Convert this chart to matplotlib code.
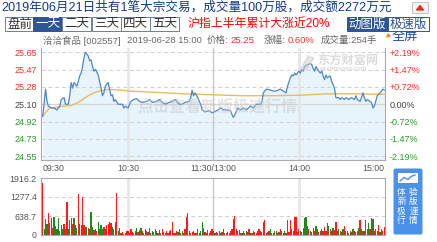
import numpy as np
import matplotlib
matplotlib.use("Agg")
import matplotlib.pyplot as plt
from matplotlib.patches import Rectangle, FancyBboxPatch, Polygon

CJK = ['Liberation Sans', 'Noto Sans CJK SC', 'DejaVu Sans']
plt.rcParams['font.family'] = CJK

# ---- Daten ----
prev_close = 25.10
price_ticks = ["25.65", "25.47", "25.28", "25.10", "24.92", "24.73", "24.55"]
pct_ticks = ["+2.19%", "+1.47%", "+0.72%", "0.00%", "-0.72%", "-1.47%", "-2.19%"]
time_labels = ["09:30", "10:30", "11:30/13:00", "14:00", "15:00"]
time_pos = [0, 60, 120, 180, 240]
vol_ticks = ["1916.2", "1277.4", "638.7", "0"]
vol_max = 1916.2

price_min = [0, 2, 3, 4, 6, 8, 10, 12, 13, 15, 16, 18, 19, 20, 21, 22, 24, 25, 26, 27,
             28, 29, 30, 32, 33, 34, 35, 36, 37, 39, 40, 41, 42, 43, 44, 46, 47, 48, 49, 50,
             51, 53, 54, 56, 57, 58, 60, 61, 62, 64, 66, 68, 70, 73, 75, 77, 80, 82, 84, 86,
             89, 91, 93, 96, 98, 100, 103, 104, 105, 106, 107, 109, 110, 111, 112, 113, 114, 117, 119, 121,
             123, 125, 127, 130, 132, 133, 134, 135, 137, 139, 141, 143, 146, 148, 150, 153, 154, 155, 156, 157,
             160, 162, 164, 167, 169, 171, 172, 174, 175, 176, 177, 178, 180, 181, 182, 183, 184, 186, 188, 189,
             190, 191, 192, 193, 195, 196, 197, 198, 199, 200, 202, 203, 204, 205, 206, 208, 209, 210, 212, 213,
             215, 217, 219, 220, 221, 223, 224, 225, 226, 227, 228, 230, 231, 232, 233, 234, 235, 237, 238, 239,
             240]
price = [24.97, 25.26, 25.13, 25.08, 25.06, 25.06, 25.04, 25.08, 25.15, 25.17, 25.10, 25.10, 25.19, 25.33, 25.27, 25.33, 25.29, 25.34, 25.40, 25.43,
         25.50, 25.59, 25.65, 25.61, 25.56, 25.57, 25.50, 25.45, 25.47, 25.41, 25.34, 25.27, 25.19, 25.22, 25.29, 25.33, 25.26, 25.19, 25.20, 25.13,
         25.15, 25.10, 25.10, 25.10, 25.06, 25.08, 25.06, 25.10, 25.13, 25.15, 25.16, 25.13, 25.12, 25.13, 25.15, 25.12, 25.13, 25.15, 25.12, 25.10,
         25.12, 25.13, 25.15, 25.10, 25.10, 25.12, 25.13, 25.17, 25.25, 25.19, 25.22, 25.17, 25.13, 25.10, 25.04, 25.03, 25.02, 25.03, 25.01, 25.02,
         25.04, 25.06, 25.04, 25.04, 25.03, 24.99, 24.96, 24.99, 25.06, 25.04, 25.06, 25.04, 25.08, 25.06, 25.10, 25.10, 25.13, 25.22, 25.24, 25.26,
         25.25, 25.24, 25.24, 25.26, 25.24, 25.22, 25.29, 25.38, 25.41, 25.40, 25.43, 25.41, 25.45, 25.43, 25.47, 25.45, 25.50, 25.52, 25.53, 25.52,
         25.48, 25.45, 25.50, 25.47, 25.43, 25.45, 25.40, 25.36, 25.41, 25.38, 25.40, 25.34, 25.31, 25.27, 25.17, 25.17, 25.15, 25.17, 25.15, 25.17,
         25.15, 25.17, 25.15, 25.19, 25.15, 25.13, 25.17, 25.22, 25.17, 25.13, 25.15, 25.13, 25.12, 25.06, 25.08, 25.13, 25.19, 25.22, 25.24, 25.26,
         25.25]

avg_min = [0, 5, 10, 15, 20, 25, 28, 32, 36, 40, 45, 50, 55, 60, 80, 100, 120, 140, 160, 180, 200, 220, 240]
avg_price = [24.98, 25.06, 25.07, 25.08, 25.085, 25.12, 25.15, 25.19, 25.22, 25.24, 25.255, 25.255, 25.25, 25.24,
             25.225, 25.21, 25.20, 25.19, 25.19, 25.195, 25.21, 25.21, 25.205]

volume = [1740, 200, 540, 380, 728, 400, 560, 250, 620, 300,
          200, 560, 150, 330, 200, 380, 200, 1120, 200, 500,
          560, 380, 560, 330, 250, 1378, 380, 330, 1266, 330,
          280, 280, 250, 200, 762, 260, 180, 200, 150, 450,
          200, 330, 200, 280, 200, 330, 380, 450, 400, 280,
          200, 450, 1400, 150, 220, 60, 100, 50, 80, 150,
          120, 60, 200, 100, 60, 150, 220, 100, 180, 250,
          120, 80, 200, 150, 100, 220, 60, 150, 100, 200,
          120, 60, 180, 80, 200, 100, 60, 150, 80, 120,
          180, 430, 80, 60, 150, 100, 200, 60, 120, 80,
          200, 616, 750, 120, 60, 100, 150, 80, 60, 200,
          80, 150, 450, 220, 100, 80, 180, 60, 120, 200,
          150, 60, 100, 80, 150, 60, 100, 200, 80, 60,
          100, 60, 150, 200, 526, 640, 200, 120, 180, 60,
          80, 150, 60, 120, 100, 200, 60, 80, 150, 100,
          60, 120, 200, 150, 100, 450, 500, 60, 100, 150,
          200, 80, 60, 120, 150, 60, 100, 200, 120, 80,
          150, 60, 500, 100, 500, 200, 150, 616, 616, 100,
          200, 150, 100, 250, 560, 616, 300, 200, 150, 100,
          250, 150, 300, 200, 100, 150, 200, 120, 280, 150,
          390, 300, 200, 150, 250, 180, 450, 120, 200, 150,
          100, 200, 300, 150, 120, 80, 150, 100, 200, 150,
          100, 150, 250, 500, 200, 150, 120, 500, 200, 390,
          200, 560, 526, 150, 200, 120, 330, 100, 200, 150,
          280]
vol_dir = ("rgrgrrrrgr" "gggrgrgrgr" "grgrgrrgrr" "ggrgggrgrg" "rggrgrrgrg"
           "grrgrrrgrr" "rgrrgrgrrg" "rrgrgrrgrr" "grrgrrgrrg" "rrgrrgrrgr"
           "rrrgrrgrrg" "rgggrrrgrr" "rgrrrgrrgr" "rgrrgrrgrr" "grrgrrrgrr"
           "rgrrrrrgrr" "grrgrrgrrr" "grrrrrgrrr" "rgrrggrrgr" "rrgrrgrrrr"
           "ggrrgrrrgr" "rgrrrgrrgr" "rrgrrgrrrg" "rggrrrrgrr" "r")

W, H = 437, 242
fig = plt.figure(figsize=(W / 100, H / 100), dpi=100)


def px(x, y, w, h):
    return [x / W, 1 - (y + h) / H, w / W, h / H]


# Preis-Chart
ax = fig.add_axes(px(41, 48, 344, 112))
lev = prev_close + np.linspace(0.55, -0.55, 7)
ax.set_xlim(-1.2, 240.5)
ax.set_ylim(24.51, 25.695)
ax.fill_between(price_min, price, 24.51, color="#e8f4fc", lw=0)
for i, v in enumerate(lev):
    if i == 3:
        ax.axhline(v, color="#d6d6d6", lw=0.9, zorder=1)
    else:
        ax.axhline(v, color="#cfcfcf", lw=0.7, ls=(0, (4, 3)), zorder=1)
ax.axvline(60, color="#e6e6e6", lw=2, zorder=1)
ax.axvline(120, color="#c8c8c8", lw=1, zorder=1)
ax.axvline(180, color="#e6e6e6", lw=2, zorder=1)
ax.plot(avg_min, avg_price, color="#e9bc5c", lw=1.0, zorder=3)
ax.plot(price_min, price, color="#4f86c6", lw=0.9, zorder=4)
for s in ["left", "right", "bottom"]:
    ax.spines[s].set_color("#aaaaaa")
    ax.spines[s].set_linewidth(0.8)
ax.spines["top"].set_visible(False)
cols = ["#ff2b2b"] * 3 + ["#444444"] + ["#2a9a2a"] * 3
ax.set_yticks(lev)
ax.set_yticklabels(price_ticks, fontsize=6.5)
for lab, c in zip(ax.get_yticklabels(), cols):
    lab.set_color(c)
ax.tick_params(axis="y", length=0, pad=3)
ax.set_xticks(time_pos)
ax.set_xticklabels(time_labels, fontsize=6.3, color="#555555")
ax.tick_params(axis="x", length=0, pad=3)
xl = ax.get_xticklabels()
xl[0].set_ha("left")
xl[-1].set_ha("right")
ax2 = ax.twinx()
ax2.set_ylim(ax.get_ylim())
ax2.set_yticks(lev)
ax2.set_yticklabels(pct_ticks, fontsize=6.5)
for lab, c in zip(ax2.get_yticklabels(), cols):
    lab.set_color(c)
ax2.tick_params(axis="y", length=0, pad=3)
for s in ax2.spines.values():
    s.set_visible(False)

# Volumen
axv = fig.add_axes(px(41, 178, 344, 57))
axv.set_xlim(-1.2, 240.5)
axv.set_ylim(0, vol_max)
vc = ["#ff1a1a" if d == "r" else "#1e8a1e" for d in vol_dir]
axv.bar(np.arange(len(volume)), volume, width=0.85, color=vc, lw=0, zorder=3)
vlev = np.linspace(vol_max, 0, 4)
for v in vlev[1:3]:
    axv.axhline(v, color="#cfcfcf", lw=0.7, ls=(0, (4, 3)), zorder=1)
axv.axvline(60, color="#e6e6e6", lw=2, zorder=1)
axv.axvline(120, color="#c8c8c8", lw=1, zorder=1)
axv.axvline(180, color="#e6e6e6", lw=2, zorder=1)
axv.set_yticks(vlev)
axv.set_yticklabels(vol_ticks, fontsize=6.3, color="#555555")
axv.tick_params(axis="y", length=0, pad=3)
axv.set_xticks([])
for s in axv.spines.values():
    s.set_color("#aaaaaa")
    s.set_linewidth(0.8)

# Overlay fuer Kopfzeile, Buttons, Wasserzeichen
ov = fig.add_axes([0, 0, 1, 1], zorder=10)
ov.set_xlim(0, W)
ov.set_ylim(H, 0)
ov.axis("off")
ov.patch.set_alpha(0)

t = ov.text(1, 7, "2019年06月21日共有1笔大宗交易，成交量100万股，成交额2272万元",
            fontsize=9.1, color="#123c8c", va="center", ha="left")
t.set_clip_path(Rectangle((0, 0), 401, 16, transform=ov.transData))
ov.add_patch(Rectangle((412, 2), 16, 11, facecolor="#f4f4f4", edgecolor="#bbbbbb", lw=0.6, zorder=3))
ov.add_patch(Polygon([[416.5, 10], [420, 5.5], [423.5, 10]], color="#e03020", zorder=4))

# "全屏" liegt halb unter der Tab-Leiste
ov.annotate("", xy=(384, 40), xytext=(390, 34),
            arrowprops=dict(arrowstyle="-|>", color="#f08a2a", lw=1, mutation_scale=5), zorder=1)
ov.text(392, 37, "全屏", fontsize=9.5, color="#1f4fa8", ha="left", va="center", zorder=1)

tabs = ["盘前", "一天", "二天", "三天", "四天", "五天"]
tx = [5, 33, 62, 92, 121, 150]
for i, name in enumerate(tabs):
    sel = i == 1
    ov.add_patch(Rectangle((tx[i], 17), 29, 14, facecolor="#2d5697" if sel else "white",
                           edgecolor="#2d5697" if sel else "#6f7f99", lw=0.7, zorder=3))
    ov.text(tx[i] + 14.5, 24.5, name, fontsize=9, ha="center", va="center",
            color="white" if sel else "#333333", zorder=4)
ov.text(188, 24, "沪指上半年累计大涨近20%", fontsize=8.6, color="#ff0000", ha="left", va="center")
ov.add_patch(Rectangle((347, 17), 41, 14, facecolor="#2d5697", edgecolor="#2d5697", lw=0.7, zorder=3))
ov.text(367.5, 24.5, "动图版", fontsize=9, color="white", ha="center", va="center", zorder=4)
ov.add_patch(Rectangle((388, 17), 41, 14, facecolor="white", edgecolor="#2d5697", lw=0.7, zorder=3))
ov.text(408.5, 24.5, "极速版", fontsize=9, color="#2d5697", ha="center", va="center", zorder=4)

# Infozeile, Stueck fuer Stueck aneinandergehaengt
info = [("2019-06-28 15:00", "#666666", 6), ("价格:", "#666666", 5),
        ("25.25", "#ff2b2b", 2), ("涨幅:", "#666666", 10), ("0.60%", "#ff2b2b", 2),
        ("成交量:254手", "#666666", 6)]
prev = ov.text(43, 40.5, "洽洽食品 [002557]", fontsize=6.8, color="#666666", ha="left", va="center")
for s, c, gap in info:
    prev = ov.annotate(s, xy=(1, 0.5), xycoords=prev, xytext=(gap, 0), textcoords="offset pixels",
                       fontsize=6.8, color=c, ha="left", va="center")

# Wasserzeichen
ov.text(138, 107, "点击查看新版极速行情", fontsize=11.5, color="#c8c8c8", alpha=0.5,
        ha="left", va="center", fontweight="bold")
ov.text(317, 61, "东方财富网", fontsize=8.8, color="#c0c0c0", alpha=0.55, ha="left",
        va="center", fontweight="bold")
ov.text(320, 68.5, "eastmoney.com", fontsize=4.6, color="#c0c0c0", alpha=0.55, ha="left",
        va="center", fontweight="bold")
ov.add_patch(Polygon([[300, 70], [308, 56], [314, 58], [306, 70]], color="#cccccc", alpha=0.5))

# Blauer Button rechts
ov.add_patch(FancyBboxPatch((393.5, 168.5), 29, 66, boxstyle="round,pad=0,rounding_size=2",
                            facecolor="#4b90ea", edgecolor="none"))
ov.add_patch(Rectangle((398, 173), 20, 10, facecolor="white", edgecolor="none"))
ov.plot([400, 404, 408, 411, 415], [181, 177.5, 179.5, 176.5, 175], color="#4b90ea", lw=1)
for r, row in enumerate(["体验", "新版", "极速", "行情"]):
    for c, ch in enumerate(row):
        ov.text(401.5 + c * 12, 192 + r * 9.5, ch, fontsize=6.2, color="white",
                ha="center", va="center")

fig.savefig("out.png", dpi=100)
